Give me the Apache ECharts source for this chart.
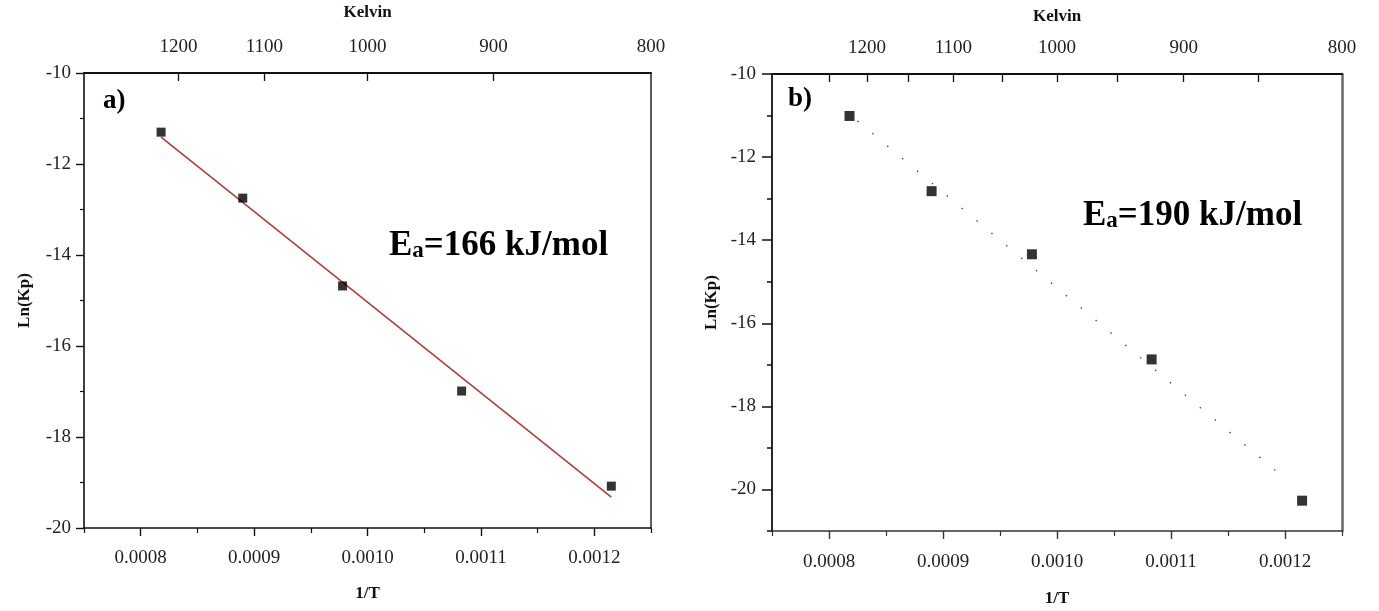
<!DOCTYPE html>
<html>
<head>
<meta charset="utf-8">
<script src="https://cdn.jsdelivr.net/npm/echarts@6/dist/echarts.min.js"></script>
<style>
html,body{margin:0;padding:0;background:#fff;}
#c{width:1379px;height:611px;}
</style>
</head>
<body>
<div id="c"></div>
<script>
// ---- data ----
const invT = [0.000818, 0.000890, 0.000978, 0.001083, 0.001215];
const lnKpA = [-11.30, -12.75, -14.68, -16.99, -19.08];
const lnKpB = [-11.01, -12.82, -14.34, -16.87, -20.27];
const fitAx = [0.000818, 0.001215];
const fitAy = [-11.41, -19.32];
const fitBx = [0.000825, 0.001198];
const fitBy = [-11.13, -19.69];
const xMajor = [0.0008, 0.0009, 0.0010, 0.0011, 0.0012];
const xMinor = [0.00075, 0.00085, 0.00095, 0.00105, 0.00115, 0.00125];
const kelvinLabels = [1200, 1100, 1000, 900, 800];
const kelvinTicksA = [1200, 1100, 1000, 900];
const kelvinTicksB = [1250, 1200, 1150, 1100, 1050, 1000, 950, 900, 850];
const yLabelsB = [-20, -18, -16, -14, -12, -10];
const yMinorB = [-21, -19, -17, -15, -13, -11];
const eaA = '166 kJ/mol';
const eaB = '190 kJ/mol';

const SERIF = '"Liberation Serif", "Times New Roman", serif';
const TICKFONT = 19;
const inv = v => 1 / v;
const pairs = (xs, ys) => xs.map((x, i) => [x, ys[i]]);
const titleStyle = { fontFamily: SERIF, fontSize: 17, fontWeight: 'bold', color: '#111' };

function bottomMain(grid, color, margin, gap) {
  return {
    gridIndex: grid, type: 'value', position: 'bottom', min: 0.00075, max: 0.00125,
    axisLine: { show: true, onZero: false, lineStyle: { color: color, width: 1.6 } },
    axisTick: { show: true, inside: false, length: 8, customValues: xMajor, lineStyle: { color: color, width: 1.4 } },
    axisLabel: { show: true, customValues: xMajor, formatter: v => v.toFixed(4), fontFamily: SERIF, fontSize: TICKFONT, color: '#222', margin: margin },
    splitLine: { show: false },
    name: '1/T', nameLocation: 'middle', nameGap: gap, nameTextStyle: titleStyle
  };
}
function bottomMinor(grid, color) {
  return {
    gridIndex: grid, type: 'value', position: 'bottom', min: 0.00075, max: 0.00125,
    axisLine: { show: false, onZero: false },
    axisTick: { show: true, inside: false, length: 5, customValues: xMinor, lineStyle: { color: color, width: 1.2 } },
    axisLabel: { show: false }, splitLine: { show: false }
  };
}
function topKelvin(grid, ticks, color, margin, gap) {
  return {
    gridIndex: grid, type: 'value', position: 'top', min: 0.00075, max: 0.00125,
    axisLine: { show: true, onZero: false, lineStyle: { color: color, width: 1.8 } },
    axisTick: { show: true, inside: true, length: 8, customValues: ticks.map(inv), lineStyle: { color: color, width: 1.3 } },
    axisLabel: { show: true, customValues: kelvinLabels.map(inv), formatter: v => String(Math.round(1 / v)), fontFamily: SERIF, fontSize: TICKFONT, color: '#222', margin: margin },
    splitLine: { show: false },
    name: 'Kelvin', nameLocation: 'middle', nameGap: gap, nameTextStyle: titleStyle
  };
}

const option = {
  backgroundColor: '#fff',
  animation: false,
  grid: [
    { left: 84, top: 73, right: 728, bottom: 83, containLabel: false, outerBoundsMode: 'none' },
    { left: 772, top: 74, right: 37, bottom: 80, containLabel: false, outerBoundsMode: 'none' }
  ],
  xAxis: [
    bottomMain(0, '#111', 21, 57),
    bottomMinor(0, '#111'),
    topKelvin(0, kelvinTicksA, '#111', 16, 52),
    bottomMain(1, '#333', 22, 59),
    bottomMinor(1, '#333'),
    topKelvin(1, kelvinTicksB, '#111', 16, 49)
  ],
  yAxis: [
    {
      gridIndex: 0, type: 'value', position: 'left', min: -20, max: -10, interval: 2,
      axisLine: { show: true, onZero: false, lineStyle: { color: '#111', width: 1.6 } },
      axisTick: { show: true, inside: false, length: 8, lineStyle: { color: '#111', width: 1.4 } },
      minorTick: { show: true, splitNumber: 2, length: 4, lineStyle: { color: '#111', width: 1.2 } },
      axisLabel: { fontFamily: SERIF, fontSize: TICKFONT, color: '#222', margin: 13 },
      splitLine: { show: false }, minorSplitLine: { show: false },
      name: 'Ln(Kp)', nameLocation: 'middle', nameGap: 51, nameRotate: 90, nameTextStyle: titleStyle
    },
    {
      gridIndex: 0, type: 'value', position: 'right', min: -20, max: -10,
      axisLine: { show: true, onZero: false, lineStyle: { color: '#333', width: 1.6 } },
      axisTick: { show: false }, axisLabel: { show: false }, splitLine: { show: false }
    },
    {
      gridIndex: 1, type: 'value', position: 'left', min: -21, max: -10,
      axisLine: { show: true, onZero: false, lineStyle: { color: '#111', width: 1.8 } },
      axisTick: { show: true, inside: false, length: 10, customValues: yLabelsB, lineStyle: { color: '#111', width: 1.5 } },
      axisLabel: { customValues: yLabelsB, fontFamily: SERIF, fontSize: TICKFONT, color: '#222', margin: 16 },
      splitLine: { show: false },
      name: 'Ln(Kp)', nameLocation: 'middle', nameGap: 52, nameRotate: 90, nameTextStyle: titleStyle
    },
    {
      gridIndex: 1, type: 'value', position: 'left', min: -21, max: -10,
      axisLine: { show: false, onZero: false },
      axisTick: { show: true, inside: false, length: 5, customValues: yMinorB, lineStyle: { color: '#111', width: 1.5 } },
      axisLabel: { show: false }, splitLine: { show: false }
    },
    {
      gridIndex: 1, type: 'value', position: 'right', min: -21, max: -10,
      axisLine: { show: true, onZero: false, lineStyle: { color: '#666', width: 2.5 } },
      axisTick: { show: false }, axisLabel: { show: false }, splitLine: { show: false }
    }
  ],
  series: [
    {
      type: 'line', xAxisIndex: 0, yAxisIndex: 0, data: pairs(fitAx, fitAy),
      symbol: 'none', lineStyle: { color: '#b03a36', width: 1.5 }, z: 2, silent: true
    },
    {
      type: 'scatter', xAxisIndex: 0, yAxisIndex: 0, data: pairs(invT, lnKpA),
      symbol: 'rect', symbolSize: 9, itemStyle: { color: '#000' }, z: 3
    },
    {
      type: 'line', xAxisIndex: 3, yAxisIndex: 2, data: pairs(fitBx, fitBy),
      symbol: 'none', lineStyle: { color: '#444', width: 1.4, type: [1.4, 18] }, z: 2, silent: true
    },
    {
      type: 'scatter', xAxisIndex: 3, yAxisIndex: 2, data: pairs(invT, lnKpB),
      symbol: 'rect', symbolSize: 10, itemStyle: { color: '#000' }, z: 3
    }
  ],
  graphic: [
    { type: 'text', left: 103, top: 88, style: { text: 'a)', font: 'bold 27px ' + SERIF, fill: '#000' } },
    { type: 'text', left: 788, top: 86, style: { text: 'b)', font: 'bold 27px ' + SERIF, fill: '#000' } },
    {
      type: 'text', left: 389, top: 228,
      style: {
        text: '{e|E}{s|a}{e|=' + eaA + '}',
        rich: {
          e: { fontFamily: SERIF, fontWeight: 'bold', fontSize: 35, fill: '#000' },
          s: { fontFamily: SERIF, fontWeight: 'bold', fontSize: 23, fill: '#000', padding: [11, 0, 0, 0] }
        }
      }
    },
    {
      type: 'text', left: 1083, top: 198,
      style: {
        text: '{e|E}{s|a}{e|=' + eaB + '}',
        rich: {
          e: { fontFamily: SERIF, fontWeight: 'bold', fontSize: 35, fill: '#000' },
          s: { fontFamily: SERIF, fontWeight: 'bold', fontSize: 23, fill: '#000', padding: [11, 0, 0, 0] }
        }
      }
    }
  ]
};

const chart = echarts.init(document.getElementById('c'), null, { renderer: 'canvas' });
chart.setOption(option);
</script>
</body>
</html>
